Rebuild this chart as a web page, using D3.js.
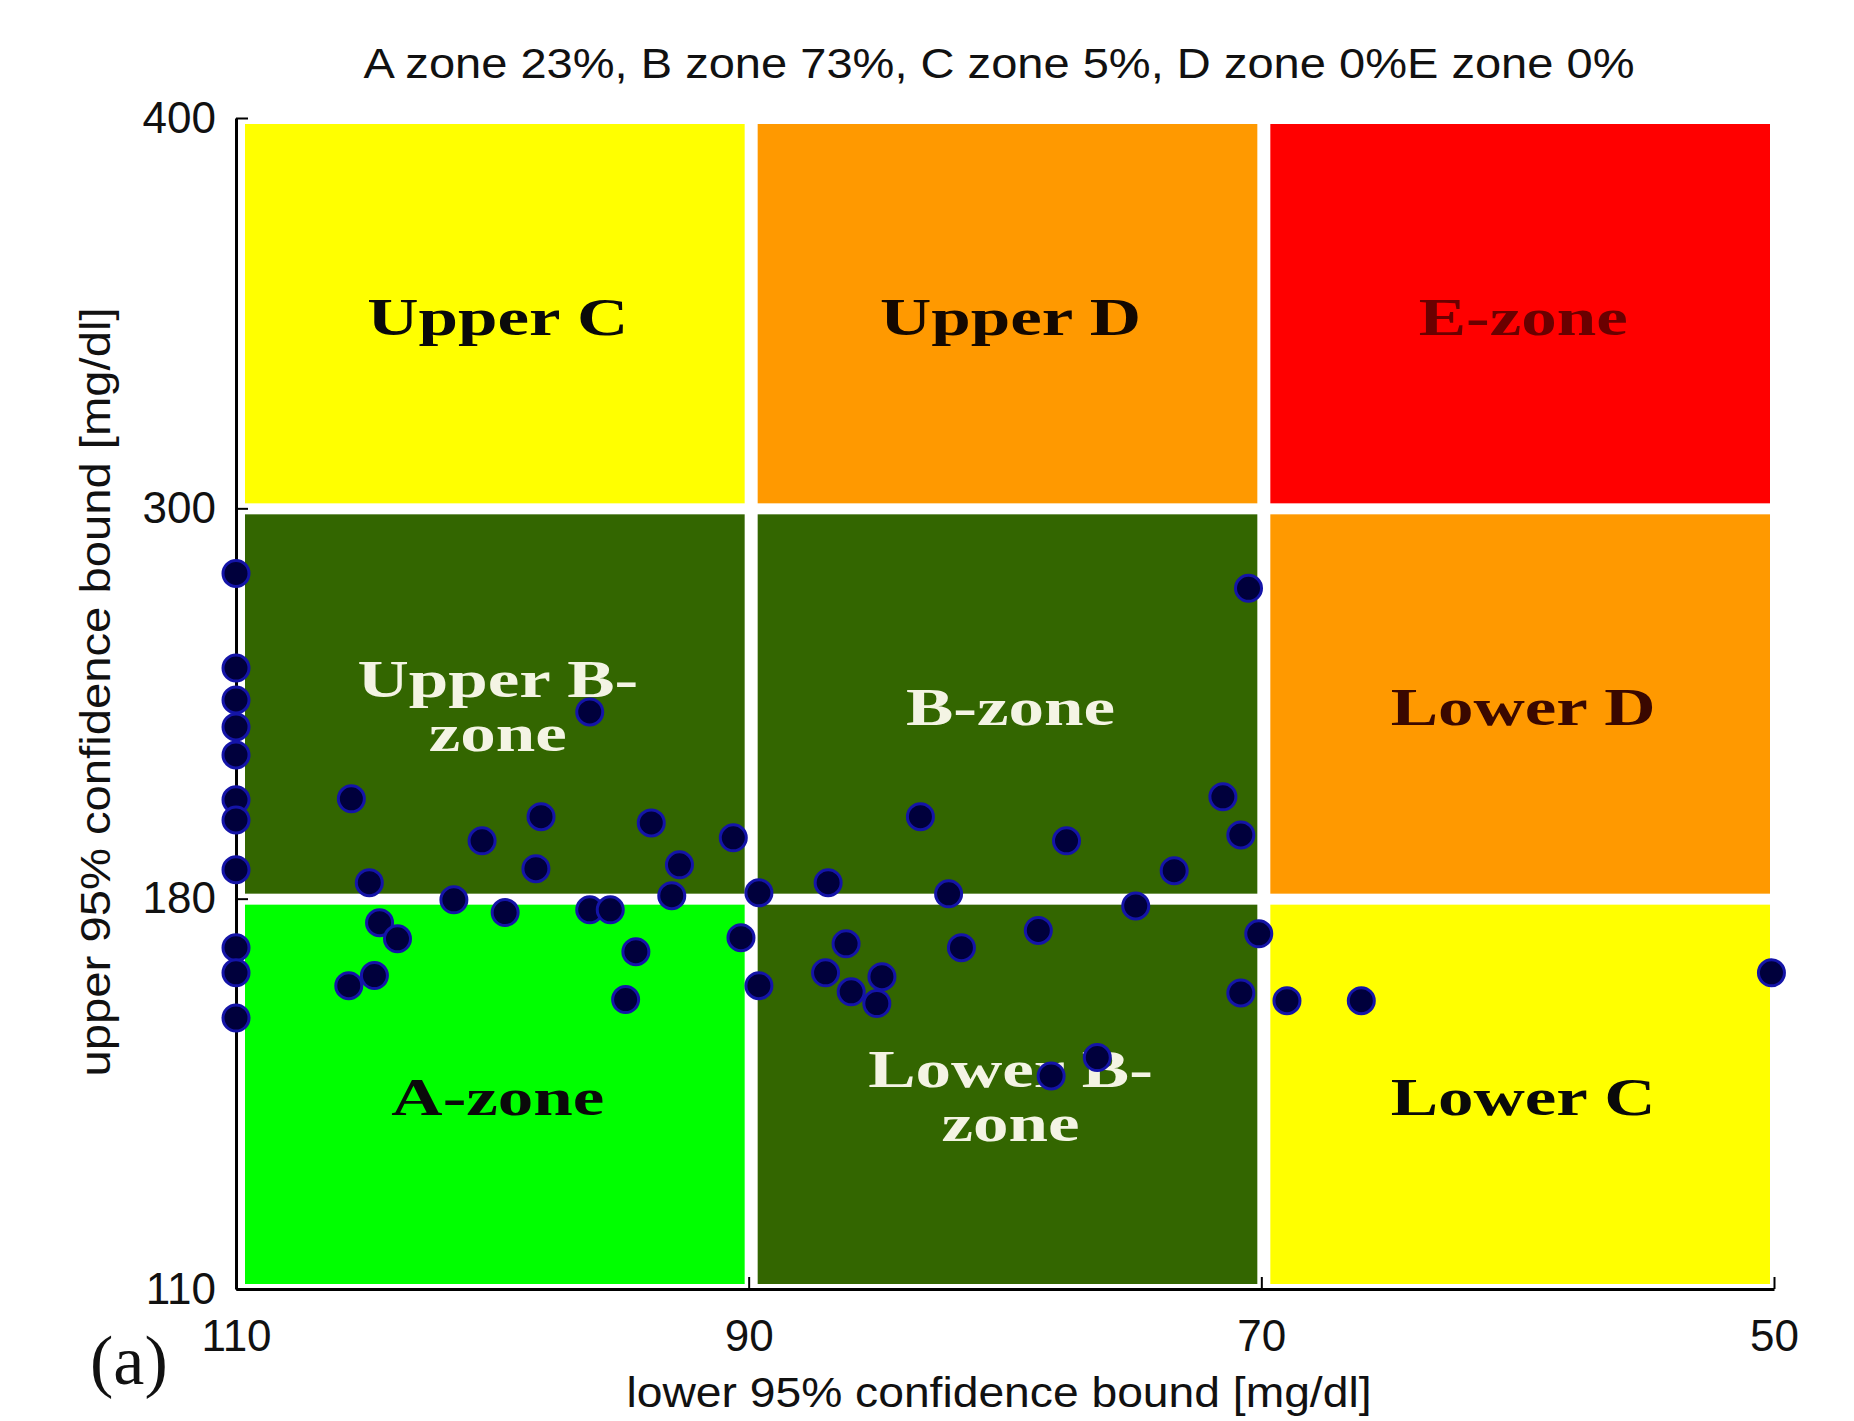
<!DOCTYPE html>
<html>
<head>
<meta charset="utf-8">
<script src="https://cdn.jsdelivr.net/npm/d3@7"></script>
<style>
    html, body { margin: 0; padding: 0; background: #fff; }
    #chart { width: 1854px; height: 1421px; }
</style>
</head>
<body>
<div id="chart"></div>
<script>
// zone boundaries on each axis
const xBreaks = [110, 90, 70, 50];
const yBreaks = [110, 180, 300, 400];
const xTicks = [110, 90, 70, 50];
const yTicks = [110, 180, 300, 400];

// zone names, rows from bottom (110-180) to top (300-400), columns 110 -> 50
const zoneNames = [
    ["A-zone", "Lower B-|zone", "Lower C"],
    ["Upper B-|zone", "B-zone", "Lower D"],
    ["Upper C", "Upper D", "E-zone"]
];

// lower 95% bound (x) and upper 95% bound (y) for each patient, mg/dl
const lowerBound = [
    110, 110, 110, 110, 110, 110, 110, 110, 110, 110, 110,
    105.5, 96.2, 98.1, 100.4, 98.3, 93.8, 90.6, 92.7, 93.0, 104.8,
    101.5, 99.5, 96.2, 95.4, 89.6, 104.4, 103.7, 94.4, 90.3, 104.6,
    105.6, 94.8, 89.6,
    70.5, 83.3, 77.6, 71.5, 70.8, 73.4, 74.9, 86.9, 82.2, 78.7,
    81.7, 86.2, 70.1, 87.0, 86.0, 84.8, 85.0, 70.8, 69.0, 66.1,
    50.1, 76.4, 78.2
];
const upperBound = [
    280.0, 250.9, 241.1, 232.8, 224.2, 210.4, 204.2, 188.9, 171.2, 166.7, 158.6,
    210.7, 237.4, 205.2, 197.8, 189.2, 203.3, 198.7, 190.4, 180.9, 184.9,
    179.8, 177.5, 178.0, 178.0, 181.8, 175.7, 172.8, 170.5, 173.0, 166.2,
    164.4, 161.9, 164.4,
    275.4, 205.2, 197.8, 211.3, 199.6, 188.6, 178.7, 184.9, 181.5, 174.3,
    171.2, 171.9, 173.7, 166.7, 163.3, 166.0, 161.2, 163.1, 161.7, 161.7,
    166.7, 151.5, 148.2
];

const titleText = "A zone 23%, B zone 73%, C zone 5%, D zone 0%E zone 0%";
const xLabel = "lower 95% confidence bound [mg/dl]";
const yLabel = "upper 95% confidence bound [mg/dl]";

const zoneFill = {
    "A-zone": "#00ff00", "Lower B-|zone": "#336600", "Lower C": "#ffff00",
    "Upper B-|zone": "#336600", "B-zone": "#336600", "Lower D": "#ff9900",
    "Upper C": "#ffff00", "Upper D": "#ff9900", "E-zone": "#ff0000"
};
const zoneInk = {
    "A-zone": "#0a0a0a", "Lower B-|zone": "#f4f4e4", "Lower C": "#0a0a0a",
    "Upper B-|zone": "#f4f4e4", "B-zone": "#f4f4e4", "Lower D": "#3a0800",
    "Upper C": "#0a0a0a", "Upper D": "#140800", "E-zone": "#6a0000"
};

class ErrorGridChart {
    margin = { top: 118, right: 80, bottom: 132, left: 236 };
    width;
    height;
    svg;
    g;
    x;
    y;

    constructor(id) {
        this.id = id;
        this.createEle();
        this.drawZones();
        this.drawAxes();
        this.drawPoints();
    }

    createEle() {
        const W = 1854, H = 1421;
        this.width = W - this.margin.left - this.margin.right;
        this.height = H - this.margin.top - this.margin.bottom;
        this.svg = d3.select("#" + this.id)
            .append("svg")
            .attr("width", W)
            .attr("height", H)
            .style("background", "#fff");
        this.g = this.svg.append("g")
            .attr("transform", `translate(${this.margin.left},${this.margin.top})`);

        this.x = d3.scaleLinear().domain([110, 50]).range([0, this.width]);
        // tick values are spaced evenly, so the y scale is piecewise
        this.y = d3.scaleLinear()
            .domain(yBreaks)
            .range(yBreaks.map((d, i) => this.height - (i * this.height) / (yBreaks.length - 1)));
    }

    drawZones() {
        const cells = [];
        zoneNames.forEach((row, r) => {
            row.forEach((name, c) => {
                cells.push({
                    name,
                    x0: this.x(xBreaks[c]) + 9,
                    x1: this.x(xBreaks[c + 1]) - 4,
                    y0: this.y(yBreaks[r + 1]) + 6,
                    y1: this.y(yBreaks[r]) - 5
                });
            });
        });

        const zone = this.g.selectAll("g.zone").data(cells).enter()
            .append("g").attr("class", "zone");

        zone.append("rect")
            .attr("x", (d) => d.x0)
            .attr("y", (d) => d.y0)
            .attr("width", (d) => d.x1 - d.x0)
            .attr("height", (d) => d.y1 - d.y0)
            .attr("fill", (d) => zoneFill[d.name]);

        zone.each(function (d) {
            const lines = d.name.split("|");
            const cx = (d.x0 + d.x1) / 2 + 3;
            const cy = (d.y0 + d.y1) / 2;
            const base = lines.length === 1 ? [cy + 21] : [cy - 7, cy + 47];
            lines.forEach((t, i) => {
                d3.select(this).append("text")
                    .attr("transform", `translate(${cx},${base[i]}) scale(1.34,1)`)
                    .attr("text-anchor", "middle")
                    .attr("font-family", "'Liberation Serif', 'Times New Roman', serif")
                    .attr("font-weight", "bold")
                    .attr("font-size", 53)
                    .attr("fill", zoneInk[d.name])
                    .text(t);
            });
        });
    }

    drawAxes() {
        const xAxis = this.g.append("g")
            .attr("transform", `translate(0,${this.height})`)
            .call(d3.axisBottom(this.x).tickValues(xTicks).tickSizeInner(-12)
                .tickSizeOuter(0).tickPadding(31).tickFormat(d3.format("d")));
        const yAxis = this.g.append("g")
            .call(d3.axisLeft(this.y).tickValues(yTicks).tickSizeInner(-12)
                .tickSizeOuter(0).tickPadding(20).tickFormat(d3.format("d")));

        [xAxis, yAxis].forEach((a) => {
            a.select(".domain").attr("stroke", "#000").attr("stroke-width", 3);
            a.selectAll(".tick line").attr("stroke", "#000").attr("stroke-width", 2);
            a.selectAll(".tick text")
                .attr("fill", "#111")
                .attr("font-family", "'Liberation Sans', Arial, sans-serif")
                .attr("font-size", 44);
        });

        const sans = "'Liberation Sans', Arial, sans-serif";
        this.svg.append("text")
            .attr("x", 999).attr("y", 78)
            .attr("text-anchor", "middle")
            .attr("font-family", sans).attr("font-size", 42)
            .attr("fill", "#111")
            .attr("textLength", 1271).attr("lengthAdjust", "spacingAndGlyphs")
            .text(titleText);

        this.svg.append("text")
            .attr("x", 999).attr("y", 1407)
            .attr("text-anchor", "middle")
            .attr("font-family", sans).attr("font-size", 42)
            .attr("fill", "#111")
            .attr("textLength", 745).attr("lengthAdjust", "spacingAndGlyphs")
            .text(xLabel);

        this.svg.append("text")
            .attr("transform", "translate(110,692) rotate(-90)")
            .attr("text-anchor", "middle")
            .attr("font-family", sans).attr("font-size", 42)
            .attr("fill", "#111")
            .attr("textLength", 769).attr("lengthAdjust", "spacingAndGlyphs")
            .text(yLabel);

        this.svg.append("text")
            .attr("x", 90).attr("y", 1384)
            .attr("font-family", "'Liberation Serif', 'Times New Roman', serif")
            .attr("font-size", 70)
            .attr("fill", "#111")
            .text("(a)");
    }

    drawPoints() {
        const pts = lowerBound.map((v, i) => ({ lo: v, hi: upperBound[i] }));
        this.g.selectAll("circle.pt").data(pts).enter()
            .append("circle")
            .attr("class", "pt")
            .attr("cx", (d) => this.x(d.lo))
            .attr("cy", (d) => this.y(d.hi))
            .attr("r", 13)
            .attr("fill", "#00003c")
            .attr("stroke", "#1414a8")
            .attr("stroke-width", 3);
    }
}

new ErrorGridChart("chart");
</script>
</body>
</html>
